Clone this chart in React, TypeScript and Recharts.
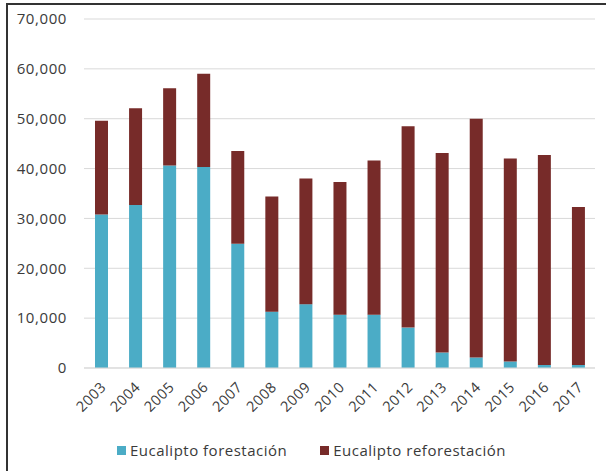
import React from 'react'
import { BarChart, Bar, XAxis, YAxis, CartesianGrid, Legend } from 'recharts'

const years = ['2003', '2004', '2005', '2006', '2007', '2008', '2009', '2010', '2011', '2012', '2013', '2014', '2015', '2016', '2017']
const forestacion = [30800, 32700, 40600, 40300, 24900, 11300, 12800, 10700, 10700, 8100, 3100, 2100, 1300, 600, 600]
const totals = [49600, 52100, 56100, 59000, 43500, 34400, 38000, 37300, 41600, 48500, 43100, 50000, 42000, 42700, 32300]
const reforestacion = totals.map((t, i) => t - forestacion[i])
const yTicks = [0, 10000, 20000, 30000, 40000, 50000, 60000, 70000]

const TEAL = '#4bacc6'
const MAROON = '#772b29'
const FONT = '"Open Sans", sans-serif'
const TEXT = '#3a3a3a'

const data = years.map((year, i) => ({
  year,
  forestacion: forestacion[i],
  reforestacion: reforestacion[i],
}))

function YearTick({ x, y, payload }: any) {
  return (
    <g transform={`translate(${x + 6},${y + 12})`}>
      <text
        x={0}
        y={0}
        textAnchor="end"
        transform="rotate(-45)"
        fill={TEXT}
        fontSize={14.5}
        letterSpacing={0.5}
        fontFamily={FONT}
      >
        {payload.value}
      </text>
    </g>
  )
}

function LegendContent({ payload }: any) {
  return (
    <div style={{ display: 'flex', gap: 33, fontFamily: FONT, fontSize: 15, letterSpacing: 0.5, color: TEXT }}>
      {payload.map((entry: any) => (
        <div key={entry.value} style={{ display: 'flex', alignItems: 'center', gap: 4 }}>
          <span style={{ width: 9, height: 9, background: entry.color, display: 'inline-block' }} />
          <span>{entry.value}</span>
        </div>
      ))}
    </div>
  )
}

export default function App() {
  return (
    <div style={{ position: 'absolute', left: 0, top: 0, width: 606, height: 471, overflow: 'hidden', background: '#fff' }}>
      <div
        style={{
          position: 'absolute',
          left: 6,
          top: 3,
          width: 700,
          height: 600,
          borderLeft: '2px solid #333',
          borderTop: '2px solid #333',
        }}
      />
      <div style={{ position: 'absolute', left: 0, top: 0 }}>
        <BarChart width={606} height={471} data={data} margin={{ top: 19, right: 11, left: 0, bottom: 21 }}>
          <CartesianGrid vertical={false} stroke="#d9d9d9" />
          <XAxis
            dataKey="year"
            tick={<YearTick />}
            tickLine={false}
            axisLine={{ stroke: '#d9d9d9' }}
            interval={0}
            height={60}
          />
          <YAxis
            width={84}
            domain={[0, 70000]}
            ticks={yTicks}
            tickFormatter={(v: number) => v.toLocaleString('en-US')}
            tick={{ fill: TEXT, fontSize: 15, fontFamily: FONT, letterSpacing: 0.6 }}
            tickLine={false}
            axisLine={false}
            tickMargin={11}
          />
          <Legend
            content={<LegendContent />}
            wrapperStyle={{ position: 'absolute', left: 117, top: 440, width: 440, height: 22 }}
          />
          <Bar dataKey="forestacion" name="Eucalipto forestación" stackId="a" fill={TEAL} barSize={13} isAnimationActive={false} />
          <Bar dataKey="reforestacion" name="Eucalipto reforestación" stackId="a" fill={MAROON} barSize={13} isAnimationActive={false} />
        </BarChart>
      </div>
    </div>
  )
}
